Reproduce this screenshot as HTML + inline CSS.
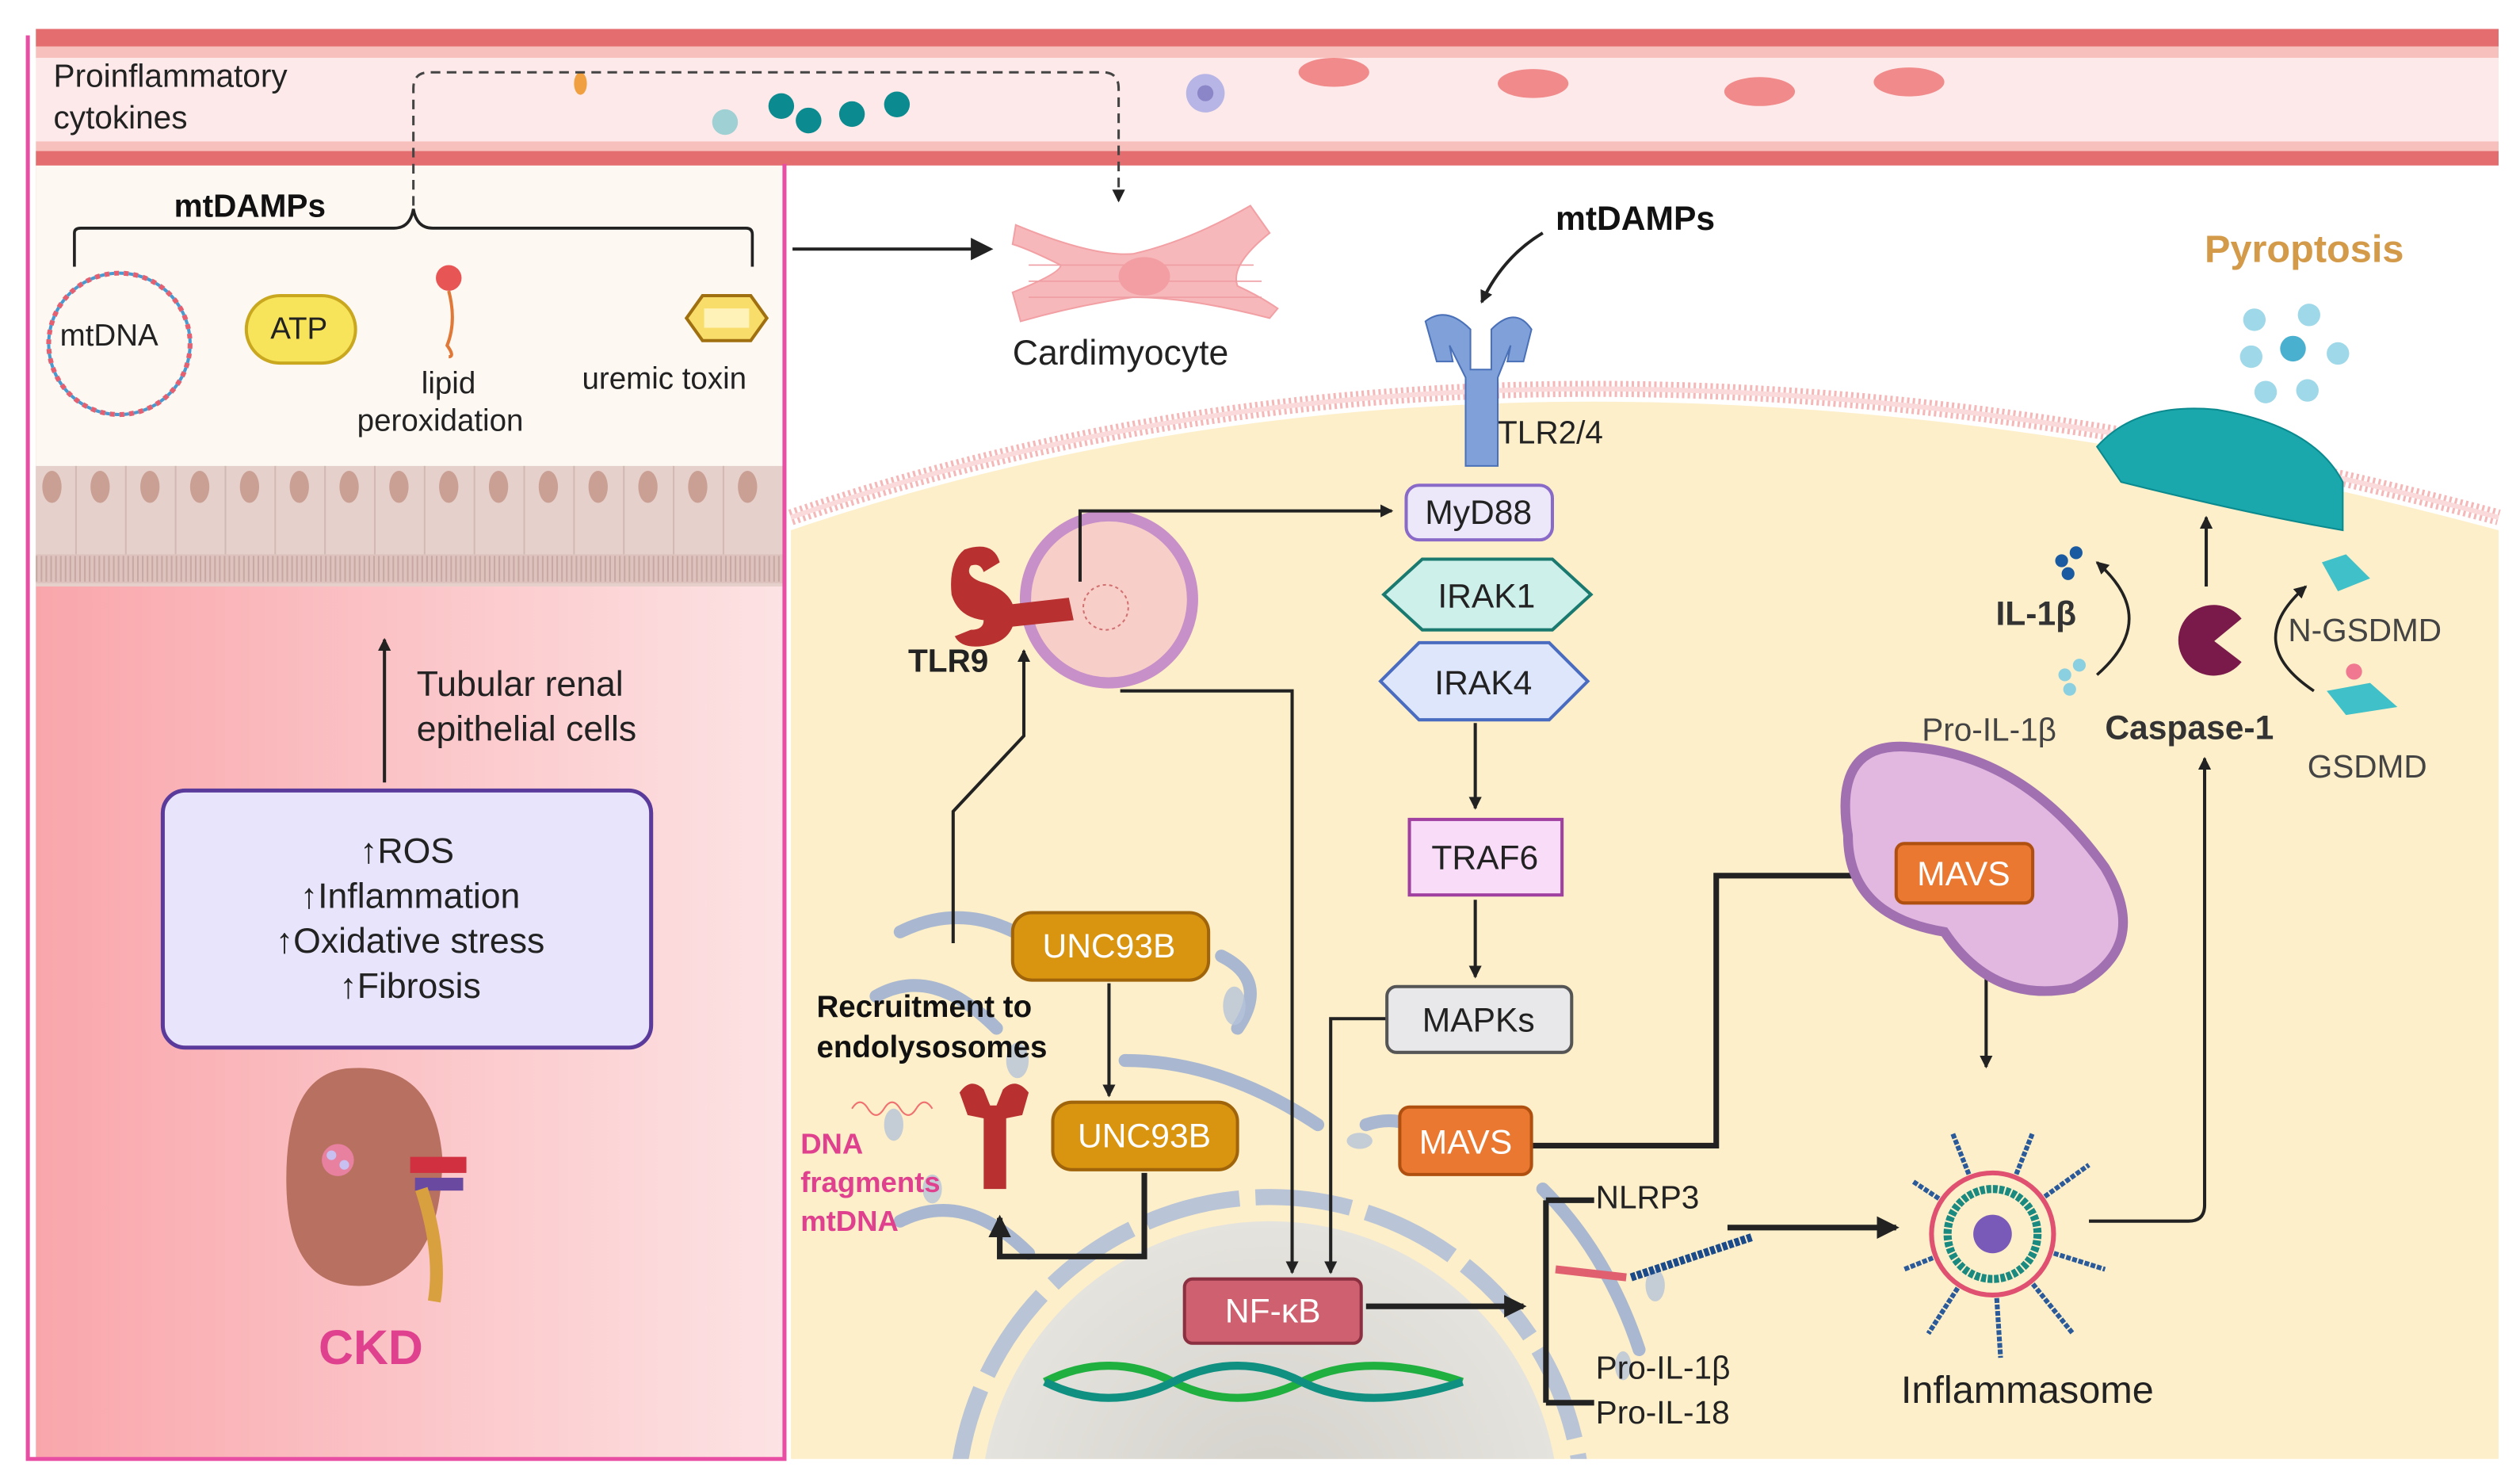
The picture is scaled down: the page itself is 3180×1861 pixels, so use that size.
<!DOCTYPE html>
<html><head><meta charset="utf-8"><style>
html,body{margin:0;padding:0;background:#fff;width:3180px;height:1861px;overflow:hidden;position:relative}
svg{display:block;position:absolute;left:0;top:0}
text{font-family:"Liberation Sans",sans-serif}
</style></head><body>
<svg width="3180" height="1861" viewBox="0 0 1568 918" xmlns="http://www.w3.org/2000/svg">
<defs>
<marker id="a" markerWidth="8" markerHeight="8" refX="7" refY="4" orient="auto" markerUnits="userSpaceOnUse"><path d="M0,0 L8,4 L0,8 z" fill="#222"/></marker>
<marker id="b" markerWidth="14" markerHeight="14" refX="12" refY="7" orient="auto" markerUnits="userSpaceOnUse"><path d="M0,0 L14,7 L0,14 z" fill="#222"/></marker>
<linearGradient id="lp" x1="0" x2="1"><stop offset="0" stop-color="#f9a6ab"/><stop offset="1" stop-color="#fde3e4"/></linearGradient>
<radialGradient id="nuc" cx="0.5" cy="0.5" r="0.5"><stop offset="0" stop-color="#c9c9cb"/><stop offset="1" stop-color="#dfe0e2"/></radialGradient>
<clipPath id="cl"><rect x="0" y="0" width="1568" height="908"/></clipPath>
</defs>
<rect width="1568" height="918" fill="#fff"/>
<path d="M492,330 Q960,170 1555,330 L1555,908 L492,908 z" fill="#fdefc9"/>
<path d="M492,322 Q960,162 1555,322" fill="none" stroke="#f5b8b8" stroke-width="10" stroke-dasharray="1.5 2"/>
<path d="M492,322 Q960,162 1555,322" fill="none" stroke="#fadada" stroke-width="3"/>
<g clip-path="url(#cl)">
<circle cx="790" cy="940" r="195" fill="none" stroke="#b9c4d6" stroke-width="10" stroke-dasharray="60 10"/>
<circle cx="790" cy="940" r="180" fill="url(#nuc)" opacity="0.8"/>
</g>
<g fill="none" stroke="#a9b8d0" stroke-width="8" stroke-linecap="round">
<path d="M560,580 Q600,560 640,585"/><path d="M545,620 Q580,600 620,640"/><path d="M760,595 Q790,610 770,640"/><path d="M850,700 Q880,690 900,720"/><path d="M960,740 Q1000,780 1020,840"/><path d="M560,760 Q600,740 640,780"/><path d="M700,660 Q760,660 820,700"/>
</g>
<g fill="#b5c3d9" opacity="0.8">
<ellipse cx="768" cy="626" rx="7" ry="12"/><ellipse cx="742" cy="596" rx="6" ry="10"/><ellipse cx="556" cy="700" rx="6" ry="10"/><ellipse cx="633" cy="660" rx="7" ry="11"/><ellipse cx="580" cy="740" rx="6" ry="9"/><ellipse cx="846" cy="710" rx="8" ry="5"/><ellipse cx="1030" cy="800" rx="6" ry="10"/><ellipse cx="1010" cy="850" rx="5" ry="9"/>
</g>
<rect x="22" y="102" width="466" height="806" fill="url(#lp)"/>
<rect x="22" y="102" width="466" height="190" fill="#fdf8f2"/>
<rect x="22" y="290" width="466" height="75" fill="#e6d0cb"/>
<g stroke="#d2b9b3" stroke-width="1">
<line x1="47" y1="290" x2="47" y2="345"/><line x1="78" y1="290" x2="78" y2="345"/><line x1="109" y1="290" x2="109" y2="345"/><line x1="140" y1="290" x2="140" y2="345"/><line x1="171" y1="290" x2="171" y2="345"/><line x1="202" y1="290" x2="202" y2="345"/><line x1="233" y1="290" x2="233" y2="345"/><line x1="264" y1="290" x2="264" y2="345"/><line x1="295" y1="290" x2="295" y2="345"/><line x1="326" y1="290" x2="326" y2="345"/><line x1="357" y1="290" x2="357" y2="345"/><line x1="388" y1="290" x2="388" y2="345"/><line x1="419" y1="290" x2="419" y2="345"/><line x1="450" y1="290" x2="450" y2="345"/>
</g>
<g fill="#caa094">
<ellipse cx="32" cy="303" rx="6" ry="10"/><ellipse cx="62" cy="303" rx="6" ry="10"/><ellipse cx="93" cy="303" rx="6" ry="10"/><ellipse cx="124" cy="303" rx="6" ry="10"/><ellipse cx="155" cy="303" rx="6" ry="10"/><ellipse cx="186" cy="303" rx="6" ry="10"/><ellipse cx="217" cy="303" rx="6" ry="10"/><ellipse cx="248" cy="303" rx="6" ry="10"/><ellipse cx="279" cy="303" rx="6" ry="10"/><ellipse cx="310" cy="303" rx="6" ry="10"/><ellipse cx="341" cy="303" rx="6" ry="10"/><ellipse cx="372" cy="303" rx="6" ry="10"/><ellipse cx="403" cy="303" rx="6" ry="10"/><ellipse cx="434" cy="303" rx="6" ry="10"/><ellipse cx="465" cy="303" rx="6" ry="10"/>
</g>
<rect x="22" y="345" width="466" height="18" fill="#d9bcb6" opacity="0.7"/>
<path d="M22,354 L488,354" stroke="#c8a8a2" stroke-width="16" stroke-dasharray="1 2"/>
<rect x="22" y="18" width="1533" height="11" fill="#e46d6f"/>
<rect x="22" y="29" width="1533" height="7" fill="#f8c0bd"/>
<rect x="22" y="36" width="1533" height="52" fill="#fde9e9"/>
<rect x="22" y="88" width="1533" height="6" fill="#f8c0bd"/>
<rect x="22" y="94" width="1533" height="9" fill="#e46d6f"/>
<g fill="#f18a8a"><ellipse cx="830" cy="45" rx="22" ry="9"/><ellipse cx="954" cy="52" rx="22" ry="9"/><ellipse cx="1095" cy="57" rx="22" ry="9"/><ellipse cx="1188" cy="51" rx="22" ry="9"/></g>
<circle cx="750" cy="58" r="12" fill="#b7b5e6"/><circle cx="750" cy="58" r="5" fill="#8a86c8"/>
<ellipse cx="361" cy="52" rx="4" ry="7" fill="#f0a040"/>
<circle cx="451" cy="76" r="8" fill="#9fd0d4"/>
<g fill="#0b8a8f"><circle cx="486" cy="66" r="8"/><circle cx="503" cy="75" r="8"/><circle cx="530" cy="71" r="8"/><circle cx="558" cy="65" r="8"/></g>
<text x="33" y="54" font-size="20" fill="#222">Proinflammatory</text>
<text x="33" y="80" font-size="20" fill="#222">cytokines</text>
<path d="M257,128 L257,55 Q257,45 267,45 L686,45 Q696,45 696,55 L696,125" fill="none" stroke="#444" stroke-width="1.5" stroke-dasharray="6 4" marker-end="url(#a)"/>
<path d="M17,22 L17,908 L488,908 L488,102" fill="none" stroke="#e84ea4" stroke-width="2.5"/>
<text x="108" y="135" font-size="20" font-weight="bold" fill="#111">mtDAMPs</text>
<path d="M46,166 L46,145 Q46,142 50,142 L245,142 Q255,142 257,130 Q259,142 269,142 L464,142 Q468,142 468,146 L468,166" fill="none" stroke="#222" stroke-width="1.8"/>
<circle cx="74" cy="214" r="44" fill="none" stroke="#e46070" stroke-width="3" stroke-dasharray="3 3"/>
<circle cx="74" cy="214" r="44" fill="none" stroke="#4a9ad0" stroke-width="2" stroke-dasharray="3 3" stroke-dashoffset="3"/>
<text x="37" y="215" font-size="19" fill="#222">mtDNA</text>
<rect x="153" y="184" width="68" height="42" rx="21" fill="#f7e45a" stroke="#c9a820" stroke-width="2"/>
<text x="168" y="211" font-size="19" fill="#222">ATP</text>
<circle cx="279" cy="173" r="8" fill="#e85555"/><path d="M279,181 Q284,200 278,215 Q283,222 279,222" stroke="#e07838" stroke-width="2" fill="none"/>
<text x="262" y="245" font-size="19" fill="#222">lipid</text>
<text x="222" y="268" font-size="19" fill="#222">peroxidation</text>
<path d="M427,198 L437,184 L467,184 L477,198 L467,212 L437,212 z" fill="#f8dd6a" stroke="#a07010" stroke-width="2"/>
<rect x="438" y="192" width="28" height="12" fill="#fff2b8"/>
<text x="362" y="242" font-size="19" fill="#222">uremic toxin</text>
<line x1="239" y1="487" x2="239" y2="398" stroke="#222" stroke-width="2" marker-end="url(#a)"/>
<text x="259" y="433" font-size="22" fill="#222">Tubular renal</text>
<text x="259" y="461" font-size="22" fill="#222">epithelial cells</text>
<rect x="101" y="492" width="304" height="160" rx="14" fill="#e8e4fb" stroke="#5a3a9a" stroke-width="2.5"/>
<g font-size="22" fill="#222" text-anchor="middle"><text x="253" y="537">↑ROS</text><text x="255" y="565">↑Inflammation</text><text x="255" y="593">↑Oxidative stress</text><text x="255" y="621">↑Fibrosis</text></g>
<path d="M215,665 Q270,660 275,720 Q275,790 230,800 Q180,805 178,740 Q176,670 215,665z" fill="#b87060"/>
<rect x="255" y="720" width="35" height="10" fill="#d03040"/><rect x="258" y="733" width="30" height="8" fill="#6a4aa0"/>
<path d="M262,740 Q275,780 270,810" stroke="#d9a040" stroke-width="8" fill="none"/>
<circle cx="210" cy="722" r="10" fill="#e880a0"/><circle cx="206" cy="719" r="3" fill="#c8c0f0"/><circle cx="214" cy="725" r="3" fill="#c8c0f0"/>
<text x="198" y="849" font-size="30" font-weight="bold" fill="#e0418f">CKD</text>
<line x1="493" y1="155" x2="616" y2="155" stroke="#222" stroke-width="2" marker-end="url(#b)"/>
<path d="M632,140 Q680,160 705,158 Q740,150 778,128 L790,145 Q765,165 770,178 Q785,185 795,192 L790,198 Q740,185 705,185 Q670,190 635,200 L630,182 Q660,170 660,165 Q640,155 630,152 z" fill="#f7b8bb" stroke="#f2a0a4"/>
<g stroke="#ee9ea2" stroke-width="0.8"><line x1="640" y1="165" x2="780" y2="165"/><line x1="640" y1="175" x2="785" y2="175"/><line x1="640" y1="185" x2="785" y2="185"/></g>
<ellipse cx="712" cy="172" rx="16" ry="12" fill="#f29ea2"/>
<text x="630" y="227" font-size="22" fill="#222">Cardimyocyte</text>
<text x="968" y="143" font-size="21" font-weight="bold" fill="#111">mtDAMPs</text>
<path d="M960,145 Q935,160 922,188" fill="none" stroke="#222" stroke-width="2" marker-end="url(#a)"/>
<path d="M887,200 Q900,190 915,205 L915,230 L928,230 L928,205 Q943,190 953,205 L948,225 L938,225 L940,215 L932,235 L932,290 L912,290 L912,235 L902,215 L904,225 L894,225 z" fill="#7fa0d8" stroke="#4a70b8"/>
<text x="932" y="276" font-size="20" fill="#222">TLR2/4</text>
<circle cx="690" cy="373" r="52" fill="#f8cfc8" stroke="#c890c8" stroke-width="7"/>
<circle cx="688" cy="378" r="14" fill="none" stroke="#d07070" stroke-dasharray="2 2"/>
<path d="M600,342 Q618,336 622,350 L612,356 Q610,350 604,352 Q600,358 610,362 Q626,366 630,376 L665,372 L668,386 L630,390 Q626,400 612,402 Q598,404 594,396 L604,392 Q612,392 612,386 Q596,384 592,370 Q590,350 600,342z" fill="#b83030"/>
<text x="565" y="418" font-size="20" font-weight="bold" fill="#222">TLR9</text>
<g fill="none" stroke="#222" stroke-width="2">
<path d="M672,362 L672,318 L866,318" marker-end="url(#a)"/>
<path d="M697,430 L804,430 L804,792" marker-end="url(#a)"/>
<path d="M593,587 L593,505 L637,458 L637,405" marker-end="url(#a)"/>
<path d="M918,450 L918,503" marker-end="url(#a)"/>
<path d="M918,560 L918,608" marker-end="url(#a)"/>
<path d="M863,634 L828,634 L828,792" marker-end="url(#a)"/>
<path d="M690,612 L690,682" marker-end="url(#a)"/>
<path d="M1236,565 L1236,664" marker-end="url(#a)"/>
<path d="M1300,760 L1362,760 Q1372,760 1372,750 L1372,472" marker-end="url(#a)"/>
<path d="M1373,365 L1373,322" marker-end="url(#a)"/>
</g>
<g fill="none" stroke="#222" stroke-width="3.5">
<path d="M712,730 L712,782 L622,782 L622,758" marker-end="url(#b)"/>
<path d="M953,713 L1068,713 L1068,545 L1180,545" marker-end="url(#b)"/>
<path d="M850,813 L948,813" marker-end="url(#b)"/>
<path d="M962,747 L962,873 M962,747 L992,747 M962,873 L992,873"/>
<path d="M1075,764 L1180,764" marker-end="url(#b)"/>
</g>
<rect x="875" y="302" width="91" height="34" rx="8" fill="#ece8f9" stroke="#8a6ac8" stroke-width="2"/>
<text x="920" y="326" font-size="21" fill="#222" text-anchor="middle">MyD88</text>
<path d="M861,370 L885,348 L966,348 L990,370 L966,392 L885,392z" fill="#cdf0ea" stroke="#1a7a70" stroke-width="2"/>
<text x="925" y="378" font-size="21" fill="#222" text-anchor="middle">IRAK1</text>
<path d="M859,424 L883,400 L964,400 L988,424 L964,448 L883,448z" fill="#dde6fb" stroke="#4a6cc0" stroke-width="2"/>
<text x="923" y="432" font-size="21" fill="#222" text-anchor="middle">IRAK4</text>
<rect x="877" y="510" width="95" height="47" fill="#f9dcf8" stroke="#a040a0" stroke-width="2"/>
<text x="924" y="541" font-size="21" fill="#222" text-anchor="middle">TRAF6</text>
<rect x="863" y="614" width="115" height="41" rx="6" fill="#e8e8ea" stroke="#555" stroke-width="2"/>
<text x="920" y="642" font-size="21" fill="#222" text-anchor="middle">MAPKs</text>
<rect x="871" y="689" width="82" height="42" rx="6" fill="#ea7830" stroke="#b05010" stroke-width="2"/>
<text x="912" y="718" font-size="21" fill="#fff" text-anchor="middle">MAVS</text>
<path d="M1150,520 Q1140,460 1190,465 Q1260,470 1310,540 Q1340,590 1290,615 Q1240,625 1210,580 Q1150,570 1150,520z" fill="#e2b8e0" stroke="#a070b0" stroke-width="6"/>
<rect x="1180" y="525" width="85" height="37" rx="5" fill="#ea7830" stroke="#b05010" stroke-width="2"/>
<text x="1222" y="551" font-size="21" fill="#fff" text-anchor="middle">MAVS</text>
<rect x="630" y="568" width="122" height="42" rx="12" fill="#d9950f" stroke="#a0640a" stroke-width="2"/>
<text x="690" y="596" font-size="21" fill="#fff" text-anchor="middle">UNC93B</text>
<rect x="655" y="686" width="115" height="42" rx="12" fill="#d9950f" stroke="#a0640a" stroke-width="2"/>
<text x="712" y="714" font-size="21" fill="#fff" text-anchor="middle">UNC93B</text>
<rect x="737" y="796" width="110" height="40" rx="5" fill="#cf606f" stroke="#8a3040" stroke-width="2"/>
<text x="792" y="823" font-size="21" fill="#fff" text-anchor="middle">NF-κB</text>
<path d="M650,860 Q690,840 730,860 T810,860 T910,860" stroke="#20b040" stroke-width="5" fill="none"/>
<path d="M650,860 Q690,880 730,860 T810,860 T910,860" stroke="#109080" stroke-width="5" fill="none"/>
<text x="508" y="633" font-size="19" font-weight="bold" fill="#111">Recruitment to</text>
<text x="508" y="658" font-size="19" font-weight="bold" fill="#111">endolysosomes</text>
<path d="M530,690 q5,-8 10,0 q5,8 10,0 q5,-8 10,0 q5,8 10,0 q5,-8 10,0" stroke="#f07070" fill="none" stroke-width="1"/>
<path d="M597,680 Q604,670 612,678 L616,688 L620,688 L624,678 Q632,670 640,680 L636,694 L626,696 L626,740 L612,740 L612,696 L602,694 z" fill="#b83030"/>
<text x="498" y="718" font-size="18" font-weight="bold" fill="#e0418f">DNA</text>
<text x="498" y="742" font-size="18" font-weight="bold" fill="#e0418f">fragments</text>
<text x="498" y="766" font-size="18" font-weight="bold" fill="#e0418f">mtDNA</text>
<text x="993" y="752" font-size="20" fill="#222">NLRP3</text>
<path d="M968,790 L1012,795" stroke="#e06070" stroke-width="5"/>
<path d="M1015,795 L1090,770" stroke="#1a4a8a" stroke-width="5" stroke-dasharray="3 1"/>
<text x="993" y="858" font-size="20" fill="#222">Pro-IL-1β</text>
<text x="993" y="886" font-size="20" fill="#222">Pro-IL-18</text>
<g stroke="#2a5a9a" stroke-width="3" stroke-dasharray="3 1">
<line x1="1240" y1="768" x2="1215" y2="705"/><line x1="1240" y1="768" x2="1265" y2="705"/><line x1="1240" y1="768" x2="1300" y2="725"/><line x1="1240" y1="768" x2="1310" y2="790"/><line x1="1240" y1="768" x2="1290" y2="830"/><line x1="1240" y1="768" x2="1245" y2="845"/><line x1="1240" y1="768" x2="1200" y2="830"/><line x1="1240" y1="768" x2="1185" y2="790"/><line x1="1240" y1="768" x2="1190" y2="735"/>
</g>
<circle cx="1240" cy="768" r="38" fill="#fdefc9" stroke="#e05070" stroke-width="3"/>
<circle cx="1240" cy="768" r="28" fill="none" stroke="#1a8a80" stroke-width="5" stroke-dasharray="3 1"/>
<circle cx="1240" cy="768" r="12" fill="#7a5ab8"/>
<text x="1183" y="873" font-size="24" fill="#222">Inflammasome</text>
<text x="1372" y="163" font-size="24" font-weight="bold" fill="#d39a4a">Pyroptosis</text>
<g fill="#9fd8e8"><circle cx="1403" cy="199" r="7"/><circle cx="1437" cy="196" r="7"/><circle cx="1455" cy="220" r="7"/><circle cx="1401" cy="222" r="7"/><circle cx="1427" cy="217" r="8" fill="#4ab0d0"/><circle cx="1410" cy="244" r="7"/><circle cx="1436" cy="243" r="7"/></g>
<path d="M1305,278 Q1330,250 1380,255 Q1440,265 1458,300 L1458,330 Q1400,320 1320,300 Z" fill="#1aa8ac" stroke="#0a8a8e"/>
<path d="M1395,385 A22,22 0 1 0 1395,412 L1378,399 Z" fill="#7a1a4a"/>
<text x="1310" y="460" font-size="21" font-weight="bold" fill="#333">Caspase-1</text>
<text x="1242" y="389" font-size="21" font-weight="bold" fill="#333">IL-1β</text>
<text x="1196" y="461" font-size="20" fill="#444">Pro-IL-1β</text>
<text x="1424" y="399" font-size="20" fill="#444">N-GSDMD</text>
<text x="1436" y="484" font-size="20" fill="#444">GSDMD</text>
<g fill="#1a5aa0"><circle cx="1283" cy="349" r="4"/><circle cx="1292" cy="344" r="4"/><circle cx="1287" cy="357" r="4"/></g>
<g fill="#8ad0e0"><circle cx="1285" cy="420" r="4"/><circle cx="1294" cy="414" r="4"/><circle cx="1288" cy="429" r="4"/></g>
<path d="M1445,350 L1460,345 L1475,360 L1455,368z" fill="#40c0c8"/>
<path d="M1448,430 L1475,425 L1492,440 L1460,445z" fill="#40c0c8"/><circle cx="1465" cy="418" r="5" fill="#f07890"/>
<g fill="none" stroke="#222" stroke-width="1.8">
<path d="M1305,420 Q1345,385 1305,350" marker-end="url(#a)"/>
<path d="M1440,430 Q1395,400 1435,365" marker-end="url(#a)"/>
</g>
</svg>
</body></html>
